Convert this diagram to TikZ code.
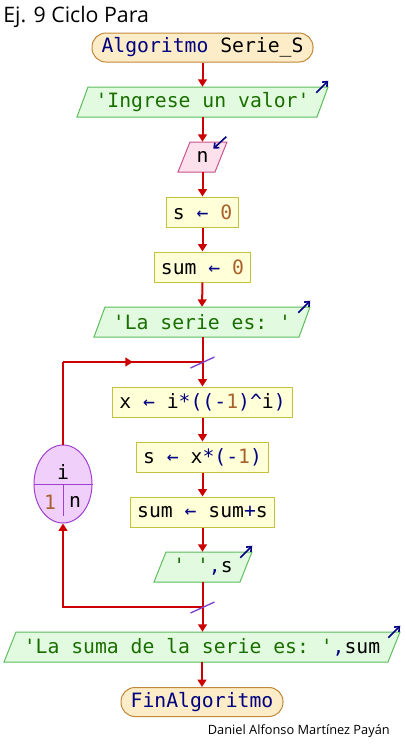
\documentclass[tikz,border=0pt]{standalone}
\usepackage{fontspec}
\setmainfont{Open Sans}
\setmonofont{DejaVu Sans Mono}
\usetikzlibrary{arrows.meta,calc,shapes.geometric,decorations.markings}

\definecolor{flowred}{HTML}{CC0000}
\definecolor{kw}{HTML}{000080}
\definecolor{strc}{HTML}{1A6E00}
\definecolor{numc}{HTML}{A8602C}
\definecolor{termfill}{HTML}{FDECC8}
\definecolor{termdraw}{HTML}{C08838}
\definecolor{outfill}{HTML}{E2FBE0}
\definecolor{outdraw}{HTML}{5CBC5C}
\definecolor{infill}{HTML}{FCE0EC}
\definecolor{indraw}{HTML}{C8508A}
\definecolor{asgfill}{HTML}{FFFFD8}
\definecolor{asgdraw}{HTML}{C8C040}
\definecolor{loopfill}{HTML}{F0D0FA}
\definecolor{loopdraw}{HTML}{A040D0}
\definecolor{slashc}{HTML}{8040D0}

% code colouring helpers
\newcommand\K[1]{\textcolor{kw}{#1}}
\newcommand\Str[1]{\textcolor{strc}{#1}}
\newcommand\Num[1]{\textcolor{numc}{#1}}
\newcommand\Gets{\K{←}}

\begin{document}
\begin{tikzpicture}[x=0.75pt,y=-0.75pt,
  code/.style={font=\ttfamily\fontsize{14.8pt}{16pt}\selectfont, inner sep=0pt},
  term/.style={code, draw=termdraw, fill=termfill, line width=0.75pt,
    rounded corners=10.5pt, minimum height=29*0.75pt},
  asg/.style={code, draw=asgdraw, fill=asgfill, line width=0.75pt,
    minimum height=30*0.75pt},
  iobox/.style={code, minimum height=30*0.75pt},
  outshape/.style={draw=outdraw, fill=outfill, line width=0.75pt},
  inshape/.style={draw=indraw, fill=infill, line width=0.75pt},
  flow/.style={draw=flowred, line width=1.5pt},
  flowarrow/.style={flow, -{Triangle[width=6.5pt,length=5.5pt]}},
  outarrow/.style={draw=kw, line width=1.2pt, -{Straight Barb[width=5pt,length=3pt]}},
  slash/.style={draw=slashc, line width=1pt},
  midarrow/.style={postaction={decorate}, decoration={markings,
    mark=at position 0.5 with {\arrow{Triangle[width=6.5pt,length=5.5pt]}}}},
]
\useasboundingbox (0,0) rectangle (406,744);

% title and author
\node[anchor=base west, inner sep=0pt, font=\fontsize{16pt}{19pt}\selectfont] (title) at (3,22) {Ej. 9 Ciclo Para};
\node[anchor=base east, inner sep=0pt, font=\fontsize{9.6pt}{11pt}\selectfont] (author) at (390,734) {Daniel Alfonso Martínez Payán};

% start
\node[term, minimum width=221*0.75pt] (start) at (202.5,47.5) {\K{Algoritmo} Serie\_S};

% output 'Ingrese un valor'
\draw[outshape] (77,117) -- (88,87) -- (328,87) -- (317,117) -- cycle;
\node[iobox, minimum width=251*0.75pt] (p1) at (202.5,102) {\Str{'Ingrese un valor'}};

% input n
\draw[inshape] (178,172) -- (190,142) -- (227,142) -- (215,172) -- cycle;
\node[iobox, minimum width=49*0.75pt] (p2) at (202.5,157) {n};

% assignments
\node[asg, minimum width=72*0.75pt] (b1) at (202.5,212) {s \Gets{} \Num{0}};
\node[asg, minimum width=96*0.75pt] (b2) at (202.5,267) {sum \Gets{} \Num{0}};

% output 'La serie es: '
\draw[outshape] (94,337) -- (105,307) -- (310,307) -- (299,337) -- cycle;
\node[iobox, minimum width=216*0.75pt] (p3) at (202,322) {\Str{'La serie es: '}};

% loop body
\node[asg, minimum width=180*0.75pt] (b3) at (202.5,402) {x \Gets{} i\K{*((-}\Num{1}\K{)\textasciicircum}i\K{)}};
\node[asg, minimum width=132*0.75pt] (b4) at (202.5,457) {s \Gets{} x\K{*(-}\Num{1}\K{)}};
\node[asg, minimum width=144*0.75pt] (b5) at (202.5,512) {sum \Gets{} sum\K{+}s};

% output ' ',s
\draw[outshape] (154,582) -- (166,552) -- (252,552) -- (240,582) -- cycle;
\node[iobox, minimum width=98*0.75pt] (p4) at (203,567) {\Str{'~'}\K{,}s};

% final output
\draw[outshape] (4,662) -- (16,632) -- (400,632) -- (388,662) -- cycle;
\node[iobox, minimum width=396*0.75pt] (p5) at (202,647) {\Str{'La suma de la serie es: '}\K{,}sum};

% end
\node[term, minimum width=162*0.75pt] (stop) at (202,702) {\K{FinAlgoritmo}};

% loop counter
\node[ellipse, draw=loopdraw, fill=loopfill, line width=0.75pt, inner sep=0pt,
  minimum width=58*0.75pt, minimum height=78*0.75pt] (ell) at (63,484) {};
\draw[draw=loopdraw, line width=0.75pt] (ell.west) -- (ell.east);
\coordinate (ellcut) at (63,516);
\draw[draw=loopdraw, line width=0.75pt] (ell.center) -- (ellcut);
\node[code] (ivar) at (63,472) {i};
\node[code] (ifrom) at (50,502) {\Num{1}};
\node[code] (ito) at (75,502) {n};

% junction points of the loop
\coordinate (jtop) at (202.5,362);
\coordinate (jbot) at (202.5,607);
\coordinate (ltop) at (63,362);

% main flow
\draw[flowarrow] (start.south) -- (p1.north);
\draw[flowarrow] (p1.south) -- (p2.north);
\draw[flowarrow] (p2.south) -- (b1.north);
\draw[flowarrow] (b1.south) -- (b2.north);
\draw[flowarrow] (b2.south) -- (p3.north);
\draw[flowarrow] (p3.south -| jtop) -- (b3.north);
\draw[flowarrow] (b3.south) -- (b4.north);
\draw[flowarrow] (b4.south) -- (b5.north);
\draw[flowarrow] (b5.south) -- (p4.north -| b5.south);
\draw[flowarrow] (p4.south -| jbot) -- (p5.north -| jbot);
\draw[flowarrow] (p5.south -| stop.north) -- (stop.north);

% loop back
\draw[flow] (ell.north) -- (ltop);
\draw[flow, midarrow] (ltop) -- (jtop);
\draw[flowarrow] (jbot) -| (ell.south);

% loop marks
\draw[slash] ($(jtop)+(-12,6)$) -- ($(jtop)+(12,-5)$);
\draw[slash] ($(jbot)+(-12,6)$) -- ($(jbot)+(12,-5)$);

% data direction marks
\draw[outarrow] ($(p1.north east)+(-12,6)$) -- ($(p1.north east)+(0,-6)$);
\draw[outarrow] ($(p3.north east)+(-12,6)$) -- ($(p3.north east)+(0,-6)$);
\draw[outarrow] ($(p4.north east)+(-12,6)$) -- ($(p4.north east)+(0,-6)$);
\draw[outarrow] ($(p5.north east)+(-12,6)$) -- ($(p5.north east)+(0,-6)$);
\draw[outarrow] ($(p2.north east)+(-1,-5)$) -- ($(p2.north east)+(-14,7)$);
\end{tikzpicture}
\end{document}
